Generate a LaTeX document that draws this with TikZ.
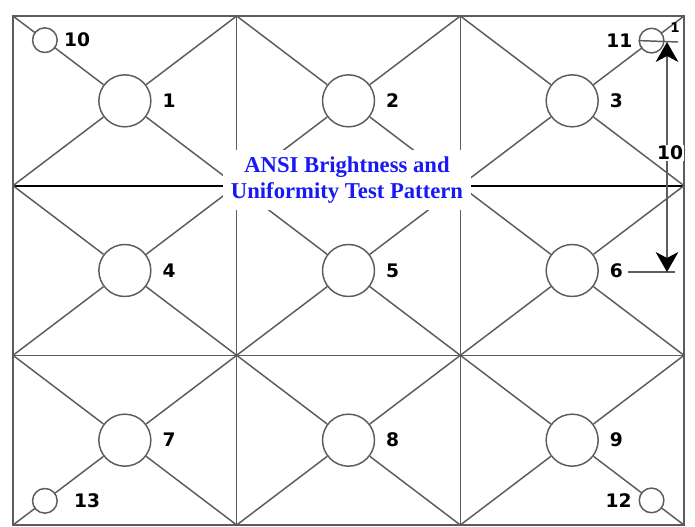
\documentclass[tikz,border=0pt]{standalone}
\usepackage{fontspec}
\setmainfont{Liberation Serif}
\newfontfamily\numfont{DejaVu Sans}
\usetikzlibrary{positioning, calc, arrows.meta}
\definecolor{linegray}{gray}{0.36}
\definecolor{titleblue}{RGB}{25,25,245}

\begin{document}
\begin{tikzpicture}[x=0.75pt, y=-0.75pt,
    gridline/.style={draw=linegray, line width=1.1pt},
    midline/.style={draw=black, line width=1.5pt},
    bigcirc/.style={circle, draw=linegray, line width=1.1pt, fill=white, minimum size=39pt, inner sep=0pt},
    smallcirc/.style={circle, draw=linegray, line width=1.1pt, fill=white, minimum size=18.5pt, inner sep=0pt},
    numlabel/.style={font=\numfont\bfseries\fontsize{14}{14}\selectfont, inner sep=0pt},
    dimline/.style={draw=linegray, line width=1.3pt,
      {Stealth[length=15pt, width=17pt, inset=4.5pt, color=black]}-{Stealth[length=15pt, width=17pt, inset=4.5pt, color=black]}}]
\useasboundingbox (0,0) rectangle (695,527);

% grid points of the 3x3 pattern
\foreach \col in {0,...,3}
  \foreach \row in {0,...,3}
    \coordinate (g\col\row) at ({13+671/3*\col},{16+509/3*\row});

% measuring circles 1..9
\foreach \n/\col/\row in {1/0/0, 2/1/0, 3/2/0, 4/0/1, 5/1/1, 6/2/1, 7/0/2, 8/1/2, 9/2/2}
  \node[bigcirc] (c\n) at ({13+671/6*(2*\col+1)},{16+509/6*(2*\row+1)}) {};

% frame and grid
\draw[gridline] (g00) rectangle (g33);
\draw[gridline] (g10) -- (g13);
\draw[gridline] (g20) -- (g23);
\draw[gridline] (g02) -- (g32);
\draw[midline] (g01) -- (g31);

% diagonals of every cell
\foreach \col in {0,1,2}
  \foreach \row in {0,1,2} {
    \pgfmathtruncatemacro\n{3*\row+\col+1}
    \pgfmathtruncatemacro\nc{\col+1}
    \pgfmathtruncatemacro\nr{\row+1}
    \draw[gridline] (g\col\row) -- (c\n);
    \draw[gridline] (g\nc\row) -- (c\n);
    \draw[gridline] (g\col\nr) -- (c\n);
    \draw[gridline] (g\nc\nr) -- (c\n);
  }

% corner circles 10..13
\node[smallcirc] (s10) at ($(g00)!0.285!(c1)$) {};
\node[smallcirc] (s11) at ($(g30)!0.29!(c3)$) {};
\node[smallcirc] (s12) at ($(g33)!0.29!(c9)$) {};
\node[smallcirc] (s13) at ($(g03)!0.285!(c7)$) {};

% labels
\foreach \n in {1,...,9}
  \node[numlabel, right=8pt of c\n] (l\n) {\n};
\node[numlabel, right=4.5pt of s10] (l10) {10};
\node[numlabel, left=4.5pt of s11] (l11) {11};
\node[numlabel, left=5pt of s12] (l12) {12};
\node[numlabel, right=12pt of s13] (l13) {13};

% title
\node[fill=white, inner xsep=6pt, inner ysep=5pt, align=center, text=titleblue,
      font=\bfseries\fontsize{17}{19.5}\selectfont] (title) at (347,180)
  {ANSI Brightness and\\Uniformity Test Pattern};

% dimension on the right
\coordinate (ticktop) at (678,42);
\coordinate (tickbot) at (675,272);
\coordinate (tickbotl) at (628,272);
\coordinate (dimtop) at (667,42);
\coordinate (dimbot) at (667,272);
\draw[gridline] (s11.west) -- (ticktop);
\draw[gridline] (tickbotl) -- (tickbot);
\draw[dimline] (dimtop) -- (dimbot);
\node[numlabel, fill=white, inner sep=1pt] (dimlabel) at (670,153) {10};
\node[numlabel, font=\numfont\bfseries\fontsize{10}{10}\selectfont] (unit) at (675,28) {1};
\end{tikzpicture}
\end{document}
